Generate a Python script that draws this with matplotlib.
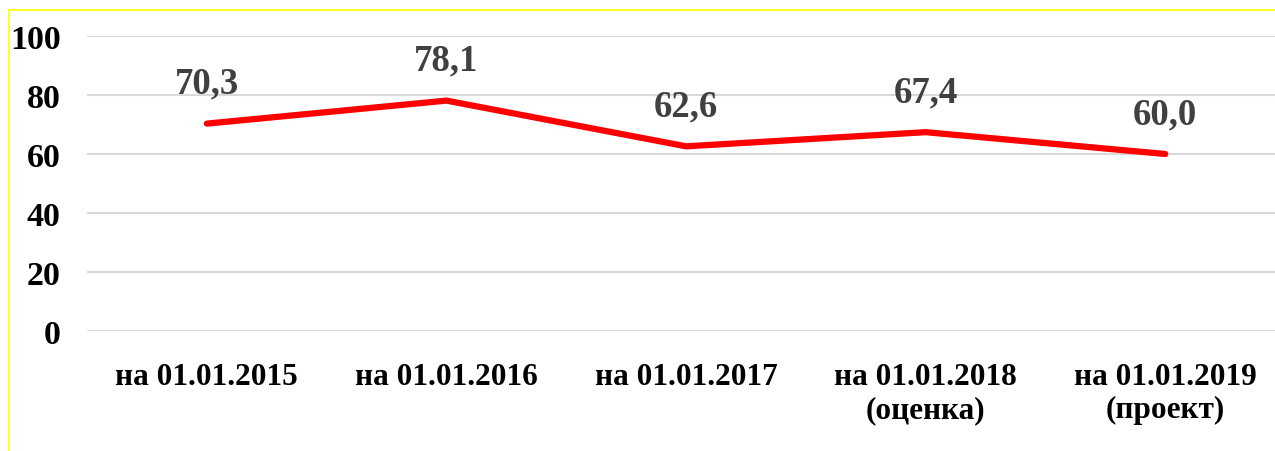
import matplotlib
matplotlib.use("Agg")
import matplotlib.pyplot as plt
from matplotlib.patches import Rectangle

categories = ["на 01.01.2015", "на 01.01.2016", "на 01.01.2017",
              "на 01.01.2018\n(оценка)", "на 01.01.2019\n(проект)"]
values = [70.3, 78.1, 62.6, 67.4, 60.0]
value_labels = ["70,3", "78,1", "62,6", "67,4", "60,0"]
y_ticks = [0, 20, 40, 60, 80, 100]

plt.rcParams['font.family'] = ['Liberation Serif', 'DejaVu Serif']
plt.rcParams['font.weight'] = 'bold'

W, H = 1275, 452
fig = plt.figure(figsize=(W / 100, H / 100), dpi=100)
fig.patch.set_facecolor("white")

# yellow frame around the chart area
fig.patches.append(Rectangle((8.5 / W, -0.05), 1.2, 1 - 10.5 / H + 0.05,
                             transform=fig.transFigure, fill=False,
                             edgecolor="#ffff00", linewidth=1.2))

ax = fig.add_axes([87 / W, 120 / H, 1198 / W, 295 / H])
ax.set_xlim(-0.5, len(categories) - 0.5)
ax.set_ylim(0, 100)

ax.set_yticks(y_ticks)
ax.set_yticklabels([str(t) for t in y_ticks], fontsize=24.5, fontweight="bold")
ax.grid(axis="y", color="#d9d9d9", linewidth=1.5)
ax.set_axisbelow(True)
for s in ax.spines.values():
    s.set_visible(False)

x = list(range(len(categories)))
ax.plot(x, values, color="#ff0000", linewidth=4.5, solid_capstyle="round",
        solid_joinstyle="round", zorder=3)

for xi, v, lab in zip(x, values, value_labels):
    ax.annotate(lab, (xi, v), xytext=(0, 29), textcoords="offset points",
                ha="center", va="center", fontsize=26.5, fontweight="bold",
                color="#404040")

ax.set_xticks(x)
ax.set_xticklabels(categories, fontsize=22.5, fontweight="bold", linespacing=1.2)
ax.tick_params(axis="x", length=0, pad=22)
ax.tick_params(axis="y", length=0, pad=19)

fig.savefig("out.png", dpi=100)
